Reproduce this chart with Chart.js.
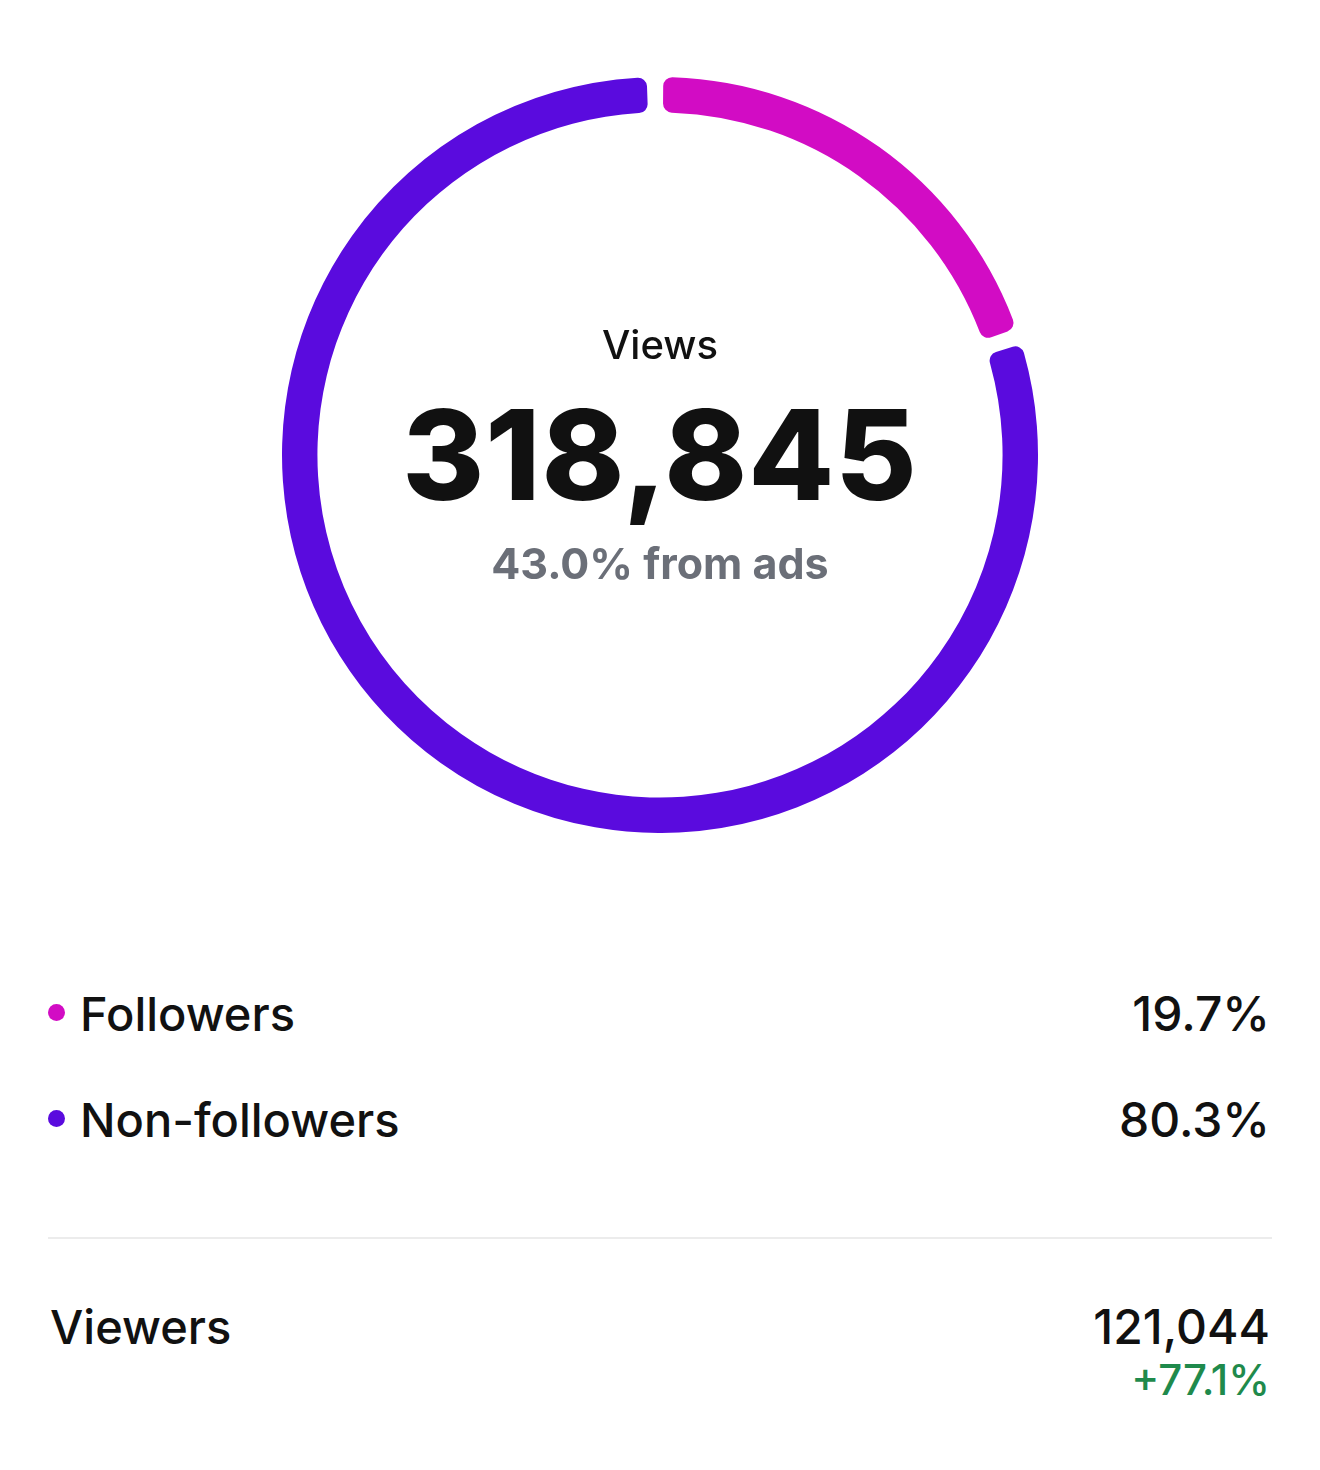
<!DOCTYPE html>
<html>
<head>
<meta charset="utf-8">
<script src="https://cdn.jsdelivr.net/npm/chart.js@4.4.1/dist/chart.umd.min.js"></script>
<style>
  html, body { margin: 0; padding: 0; background: #fff; }
  body { width: 1320px; height: 1470px; position: relative; overflow: hidden;
         font-family: Inter, "Noto Sans", sans-serif; color: #111; }
  #ring { position: absolute; left: 282px; top: 77px; width: 756px; height: 756px; }
  .t { position: absolute; line-height: 1; white-space: nowrap; }
  .c { left: 0; width: 1320px; text-align: center; }
  .r { right: 50px; text-align: right; }
  .dot { position: absolute; width: 17px; height: 17px; border-radius: 50%; }
  #rule { position: absolute; left: 48px; width: 1224px; top: 1237px; height: 2px; background: #ececec; }
</style>
</head>
<body>
<div id="ring"><canvas id="viewsChart"></canvas></div>

<div class="t c" id="title" style="top:325px;font-size:40px;font-weight:500;"></div>
<div class="t c" id="total" style="top:392px;font-size:125px;font-weight:800;letter-spacing:1px;"></div>
<div class="t c" id="adsNote" style="top:542px;font-size:43px;font-weight:700;color:#6b6f78;"></div>

<div id="legend"></div>
<div id="rule"></div>

<div class="t" id="viewersLabel" style="left:50px;top:1303px;font-size:47px;font-weight:500;"></div>
<div class="t r" id="viewersValue" style="top:1303px;font-size:48px;font-weight:500;"></div>
<div class="t r" id="viewersChange" style="top:1359px;font-size:42px;font-weight:500;color:#1f8a4c;"></div>

<script>
// Chart data
const categories = ['Followers', 'Non-followers'];
const shares = [19.7, 80.3];
const colors = ['#d20cc4', '#5a0bde'];

const titleText = 'Views';
const totalViews = '318,845';
const adsText = '43.0% from ads';
const viewersLabel = 'Viewers';
const viewersValue = '121,044';
const viewersChange = '+77.1%';

document.addEventListener('DOMContentLoaded', function() {
    document.getElementById('title').textContent = titleText;
    document.getElementById('total').textContent = totalViews;
    document.getElementById('adsNote').textContent = adsText;
    document.getElementById('viewersLabel').textContent = viewersLabel;
    document.getElementById('viewersValue').textContent = viewersValue;
    document.getElementById('viewersChange').textContent = viewersChange;

    // legend rows
    const legend = document.getElementById('legend');
    const rowTops = [990, 1096];
    categories.forEach(function(name, i) {
        const top = rowTops[i];
        const dot = document.createElement('div');
        dot.className = 'dot';
        dot.style.left = '48px';
        dot.style.top = (top + 14) + 'px';
        dot.style.background = colors[i];
        legend.appendChild(dot);

        const label = document.createElement('div');
        label.className = 't';
        label.style.cssText = 'left:80px;top:' + top + 'px;font-size:47px;font-weight:500;';
        label.textContent = name;
        legend.appendChild(label);

        const val = document.createElement('div');
        val.className = 't r';
        val.style.cssText += 'top:' + top + 'px;font-size:48px;font-weight:500;';
        val.textContent = shares[i].toFixed(1) + '%';
        legend.appendChild(val);
    });

    const ctx = document.getElementById('viewsChart').getContext('2d');
    new Chart(ctx, {
        type: 'doughnut',
        data: {
            labels: categories,
            datasets: [{
                data: shares,
                backgroundColor: colors,
                borderWidth: 0,
                borderRadius: 9,
                spacing: 10
            }]
        },
        options: {
            responsive: true,
            maintainAspectRatio: false,
            animation: false,
            cutout: '90.5%',
            rotation: 0,
            layout: { padding: 0 },
            plugins: {
                legend: { display: false },
                tooltip: { enabled: false }
            }
        }
    });
});
</script>
</body>
</html>
